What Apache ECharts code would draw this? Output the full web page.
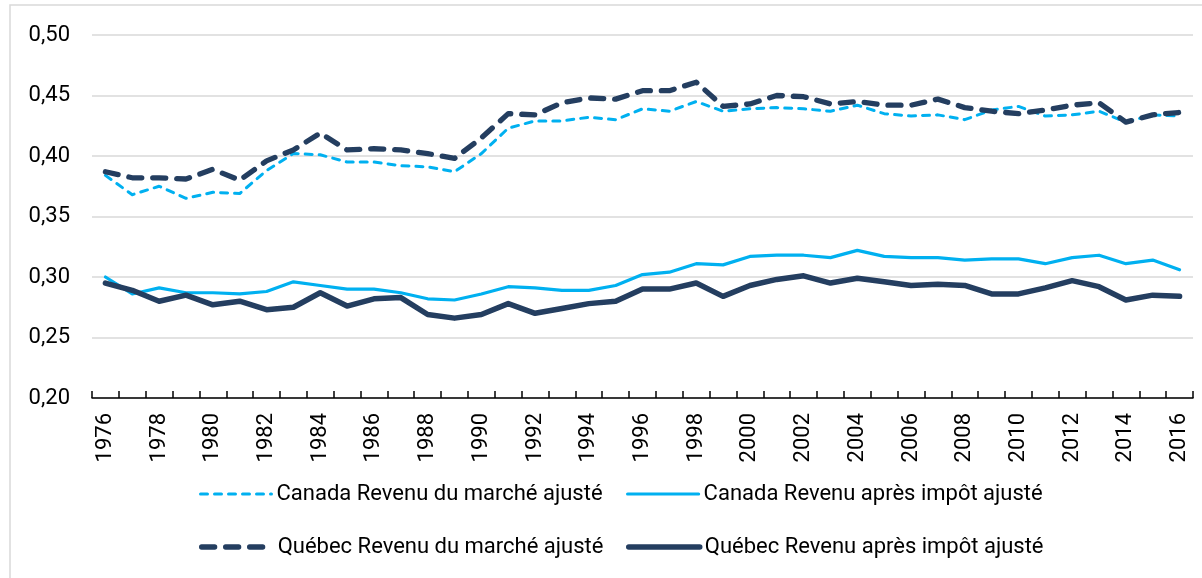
<!DOCTYPE html>
<html lang="fr">
<head>
<meta charset="utf-8">
<title>Coefficient de Gini ajusté, Canada et Québec, 1976-2016</title>
<script src="https://cdn.jsdelivr.net/npm/echarts@6/dist/echarts.min.js"></script>
<style>
  html, body { margin: 0; padding: 0; background: #ffffff; }
  #chart { width: 1202px; height: 578px; }
</style>
</head>
<body>
<div id="chart"></div>
<script>
// Années
const years = [
  '1976','1977','1978','1979','1980','1981','1982','1983','1984','1985',
  '1986','1987','1988','1989','1990','1991','1992','1993','1994','1995',
  '1996','1997','1998','1999','2000','2001','2002','2003','2004','2005',
  '2006','2007','2008','2009','2010','2011','2012','2013','2014','2015','2016'
];

// Canada – revenu du marché ajusté
const canadaMarket = [
  0.384, 0.368, 0.375, 0.365, 0.370, 0.369, 0.388, 0.402, 0.401, 0.395,
  0.395, 0.392, 0.391, 0.387, 0.402, 0.423, 0.429, 0.429, 0.432, 0.430,
  0.439, 0.437, 0.445, 0.437, 0.439, 0.440, 0.439, 0.437, 0.442, 0.435,
  0.433, 0.434, 0.430, 0.438, 0.441, 0.433, 0.434, 0.437, 0.428, 0.434, 0.433
];

// Canada – revenu après impôt ajusté
const canadaAfterTax = [
  0.300, 0.286, 0.291, 0.287, 0.287, 0.286, 0.288, 0.296, 0.293, 0.290,
  0.290, 0.287, 0.282, 0.281, 0.286, 0.292, 0.291, 0.289, 0.289, 0.293,
  0.302, 0.304, 0.311, 0.310, 0.317, 0.318, 0.318, 0.316, 0.322, 0.317,
  0.316, 0.316, 0.314, 0.315, 0.315, 0.311, 0.316, 0.318, 0.311, 0.314, 0.306
];

// Québec – revenu du marché ajusté
const quebecMarket = [
  0.387, 0.382, 0.382, 0.381, 0.389, 0.380, 0.396, 0.405, 0.419, 0.405,
  0.406, 0.405, 0.402, 0.398, 0.415, 0.435, 0.434, 0.444, 0.448, 0.447,
  0.454, 0.454, 0.461, 0.441, 0.443, 0.450, 0.449, 0.443, 0.445, 0.442,
  0.442, 0.447, 0.440, 0.437, 0.435, 0.438, 0.442, 0.444, 0.428, 0.434, 0.436
];

// Québec – revenu après impôt ajusté
const quebecAfterTax = [
  0.295, 0.289, 0.280, 0.285, 0.277, 0.280, 0.273, 0.275, 0.287, 0.276,
  0.282, 0.283, 0.269, 0.266, 0.269, 0.278, 0.270, 0.274, 0.278, 0.280,
  0.290, 0.290, 0.295, 0.284, 0.293, 0.298, 0.301, 0.295, 0.299, 0.296,
  0.293, 0.294, 0.293, 0.286, 0.286, 0.291, 0.297, 0.292, 0.281, 0.285, 0.284
];

const seriesNames = [
  'Canada Revenu du marché ajusté',
  'Canada Revenu après impôt ajusté',
  'Québec Revenu du marché ajusté',
  'Québec Revenu après impôt ajusté'
];

const LIGHT = '#00b0f0';
const DARK = '#243e60';
const FONT = 'Roboto, "Liberation Sans", sans-serif';
const TEXT_COLOR = '#000000';

const chart = echarts.init(document.getElementById('chart'), null, { renderer: 'canvas' });

// One legend block per entry so that the two columns line up
function legendFor(name, left, centerY, lineWidth) {
  return {
    data: [name],
    left: left,
    top: centerY - 11,
    padding: 0,
    itemGap: 0,
    itemWidth: 71,
    itemHeight: 22,
    selectedMode: false,
    itemStyle: { color: 'rgba(0,0,0,0)', borderWidth: 0 },
    lineStyle: { width: lineWidth },
    textStyle: { fontFamily: FONT, fontSize: 22, color: TEXT_COLOR }
  };
}

const option = {
  animation: false,
  backgroundColor: '#ffffff',
  textStyle: { fontFamily: FONT },
  graphic: [{
    type: 'rect',
    z: -10,
    silent: true,
    shape: { x: 10, y: 5, width: 1220, height: 620 },
    style: { fill: 'none', stroke: '#d9d9d9', lineWidth: 1.5 }
  }],
  grid: { left: 92, right: 9, top: 35, bottom: 180, containLabel: false },
  legend: [
    legendFor(seriesNames[0], 199, 494, 3),
    legendFor(seriesNames[1], 626, 494, 3.2),
    legendFor(seriesNames[2], 199, 547, 5.3),
    legendFor(seriesNames[3], 626, 547, 5.5)
  ],
  xAxis: {
    type: 'category',
    data: years,
    boundaryGap: true,
    axisLine: { show: true, lineStyle: { color: '#000000', width: 1.5 } },
    axisTick: { show: true, inside: true, length: 7, interval: 0, lineStyle: { color: '#000000', width: 1.5 } },
    axisLabel: {
      interval: 1,
      rotate: 90,
      margin: 15,
      fontFamily: FONT,
      fontSize: 22,
      color: TEXT_COLOR
    },
    splitLine: { show: false }
  },
  yAxis: {
    type: 'value',
    min: 0.2,
    max: 0.5,
    interval: 0.05,
    axisLine: { show: false },
    axisTick: { show: false },
    axisLabel: {
      margin: 22,
      fontFamily: FONT,
      fontSize: 22,
      color: TEXT_COLOR,
      formatter: v => v.toFixed(2).replace('.', ',')
    },
    splitLine: { show: true, lineStyle: { color: '#d9d9d9', width: 1.5 } }
  },
  series: [
    {
      name: seriesNames[0],
      type: 'line',
      data: canadaMarket,
      symbol: 'none',
      lineStyle: { color: LIGHT, width: 3, type: [7, 7], cap: 'round', join: 'round' },
      itemStyle: { color: LIGHT }
    },
    {
      name: seriesNames[1],
      type: 'line',
      data: canadaAfterTax,
      symbol: 'none',
      lineStyle: { color: LIGHT, width: 3.2, type: 'solid', cap: 'round', join: 'round' },
      itemStyle: { color: LIGHT }
    },
    {
      name: seriesNames[2],
      type: 'line',
      data: quebecMarket,
      symbol: 'none',
      lineStyle: { color: DARK, width: 5.3, type: [13, 11], cap: 'round', join: 'round' },
      itemStyle: { color: DARK }
    },
    {
      name: seriesNames[3],
      type: 'line',
      data: quebecAfterTax,
      symbol: 'none',
      lineStyle: { color: DARK, width: 5.5, type: 'solid', cap: 'round', join: 'round' },
      itemStyle: { color: DARK }
    }
  ]
};

chart.setOption(option);
</script>
</body>
</html>
